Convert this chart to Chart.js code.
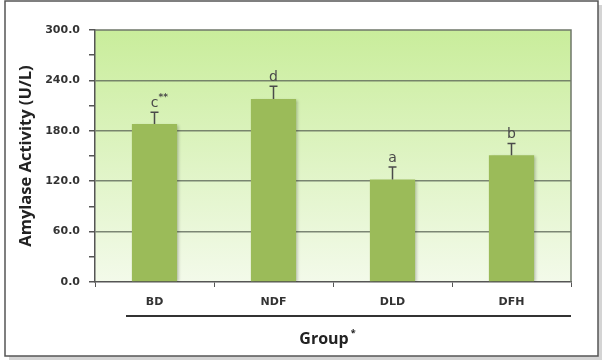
<!DOCTYPE html>
<html>
<head>
<meta charset="utf-8">
<script src="https://cdn.jsdelivr.net/npm/chart.js@4/dist/chart.umd.min.js"></script>
<style>
  html, body { margin: 0; padding: 0; background: #fff; }
  #wrap { width: 606px; height: 360px; position: relative; }
</style>
</head>
<body>
<div id="wrap"><canvas id="chartAmylase" width="606" height="360"></canvas></div>
<script>
const groups = ['BD', 'NDF', 'DLD', 'DFH'];
const amylase = [188, 218, 122, 151];
const errorUp = [14, 15, 15, 14];
const letters = ['c**', 'd', 'a', 'b'];
const yTicks = [0, 30, 60, 90, 120, 150, 180, 210, 240, 270, 300];

const frame = {
  id: 'frame',
  beforeDraw: chart => {
    const ctx = chart.ctx;
    const { top, left, right, bottom } = chart.chartArea;
    ctx.save();
    // outer box with a soft shadow
    ctx.fillStyle = '#d4d4d4';
    ctx.fillRect(9, 5, 593, 355);
    ctx.fillStyle = '#fff';
    ctx.fillRect(5, 1, 593, 355);
    ctx.strokeStyle = '#555';
    ctx.lineWidth = 1.5;
    ctx.strokeRect(5, 1, 593, 355);
    // plot background
    const g = ctx.createLinearGradient(0, top, 0, bottom);
    g.addColorStop(0, '#c9ed9b');
    g.addColorStop(1, '#f3faea');
    ctx.fillStyle = g;
    ctx.fillRect(left, top, right - left, bottom - top);
    ctx.restore();
  },
  beforeDatasetsDraw: chart => {
    const ctx = chart.ctx;
    ctx.save();
    ctx.shadowColor = 'rgba(0,0,0,0.25)';
    ctx.shadowOffsetX = 2;
    ctx.shadowOffsetY = 1;
    ctx.shadowBlur = 3;
  },
  afterDatasetsDraw: chart => {
    const ctx = chart.ctx;
    ctx.restore();
    const { top, left, right, bottom } = chart.chartArea;
    const y = chart.scales.y;
    const meta = chart.getDatasetMeta(0);
    ctx.save();
    // plot border top/right
    ctx.strokeStyle = '#6f776a';
    ctx.lineWidth = 1.5;
    ctx.beginPath();
    ctx.moveTo(left, top);
    ctx.lineTo(right, top);
    ctx.lineTo(right, bottom);
    ctx.stroke();
    // error bars and letters
    meta.data.forEach((bar, i) => {
      const yTop = y.getPixelForValue(amylase[i] + errorUp[i]);
      ctx.strokeStyle = '#4a4a4a';
      ctx.lineWidth = 1.5;
      ctx.beginPath();
      ctx.moveTo(bar.x, bar.y);
      ctx.lineTo(bar.x, yTop);
      ctx.moveTo(bar.x - 4, yTop);
      ctx.lineTo(bar.x + 4, yTop);
      ctx.stroke();
      ctx.fillStyle = '#4a4a4a';
      ctx.font = '14px "DejaVu Sans"';
      ctx.textAlign = 'center';
      ctx.textBaseline = 'alphabetic';
      const txt = letters[i];
      if (txt.endsWith('**')) {
        const base = txt.replace('**', '');
        ctx.fillText(base, bar.x, yTop - 5);
        ctx.font = 'bold 9px "DejaVu Sans"';
        ctx.textAlign = 'left';
        ctx.fillText('**', bar.x + 4, yTop - 12);
      } else {
        ctx.fillText(txt, bar.x, yTop - 5);
      }
    });
    // line under category labels and axis title
    ctx.strokeStyle = '#333';
    ctx.lineWidth = 2;
    ctx.beginPath();
    ctx.moveTo(126, 316);
    ctx.lineTo(right, 316);
    ctx.stroke();
    ctx.fillStyle = '#222';
    ctx.font = 'bold 16px "Open Sans"';
    ctx.textAlign = 'center';
    ctx.textBaseline = 'middle';
    ctx.fillText('Group', 324, 339);
    const w = ctx.measureText('Group').width;
    ctx.font = 'bold 9px "Open Sans"';
    ctx.textAlign = 'left';
    ctx.fillText('*', 324 + w / 2 + 2, 333);
    ctx.restore();
  }
};

new Chart(document.getElementById('chartAmylase'), {
  type: 'bar',
  plugins: [frame],
  data: {
    labels: groups,
    datasets: [{
      data: amylase,
      backgroundColor: '#9bbb59',
      barPercentage: 0.38,
      categoryPercentage: 1
    }]
  },
  options: {
    responsive: false,
    animation: false,
    events: [],
    layout: { padding: { top: 30, right: 35, left: 0, bottom: 0 } },
    plugins: { legend: { display: false }, tooltip: { enabled: false } },
    scales: {
      x: {
        afterFit: s => { s.height = 78; },
        grid: { drawOnChartArea: false, tickColor: '#555', tickLength: 5, offset: true },
        border: { color: '#555', width: 1.5 },
        ticks: { color: '#333', padding: 9, font: { family: 'DejaVu Sans', size: 11, weight: 'bold' } }
      },
      y: {
        min: 0,
        max: 300,
        afterFit: s => { s.width = 95; },
        afterBuildTicks: s => { s.ticks = yTicks.map(v => ({ value: v })); },
        grid: {
          color: c => (c.tick && c.tick.value % 60 === 0 && c.tick.value > 0 && c.tick.value < 300) ? 'rgba(95,105,90,0.8)' : 'rgba(0,0,0,0)',
          lineWidth: 1.5,
          tickColor: '#555',
          tickLength: 6
        },
        border: { color: '#555', width: 1.5 },
        ticks: {
          color: '#333',
          padding: 9,
          font: { family: 'DejaVu Sans', size: 11, weight: 'bold' },
          callback: v => (v % 60 === 0 ? v.toFixed(1) : '')
        },
        title: {
          display: true,
          text: 'Amylase Activity (U/L)',
          color: '#222',
          font: { family: 'Open Sans', size: 16.5, weight: 'bold' },
          padding: { top: 16, bottom: 0 }
        }
      }
    }
  }
});
</script>
</body>
</html>
